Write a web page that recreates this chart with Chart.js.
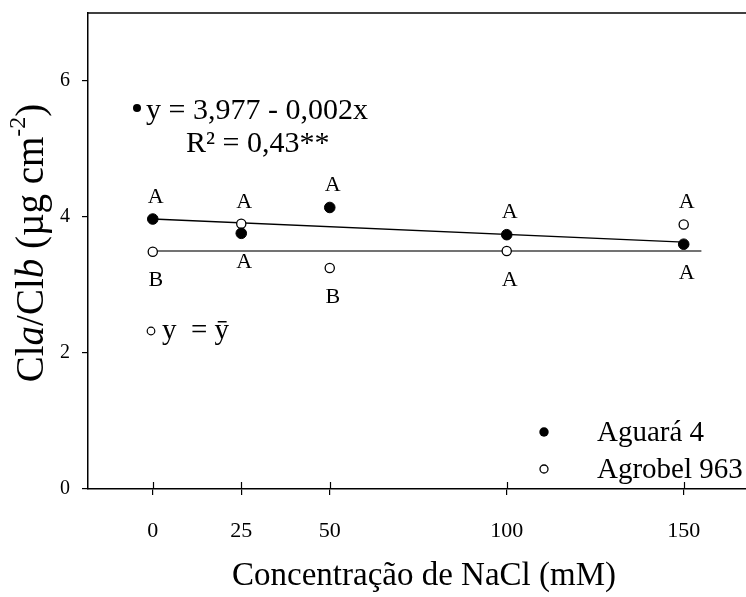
<!DOCTYPE html>
<html>
<head>
<meta charset="utf-8">
<script src="https://cdn.jsdelivr.net/npm/chart.js@4"></script>
<style>
  html, body { margin: 0; padding: 0; background: #fff; }
  #wrap { width: 746px; height: 597px; position: relative; }
  canvas { display: block; }
</style>
</head>
<body>
<div id="wrap"><canvas id="c" width="746" height="597"></canvas></div>
<script>
// ---- data ----
const concentrations = [0, 25, 50, 100, 150];
const aguara4 = [3.97, 3.76, 4.14, 3.74, 3.60];
const agrobel963 = [3.49, 3.90, 3.25, 3.50, 3.89];
const regressionX = [0, 150];
const regressionY = [3.97, 3.63];
const meanX = [0, 155];
const meanY = [3.50, 3.50];
const lettersTop = ['A', 'A', 'A', 'A', 'A'];
const lettersBottom = ['B', 'A', 'B', 'A', 'A'];
const xTickValues = [0, 25, 50, 100, 150];
const yTickValues = [0, 2, 4, 6];
const seriesNames = ['Aguará 4', 'Agrobel 963'];
const equationText = 'y = 3,977 - 0,002x';
const r2Text = 'R² = 0,43**';
const meanText = ['y', '= ȳ'];
const xTitle = 'Concentração de NaCl (mM)';

const SERIF = '"Liberation Serif", "Times New Roman", "DejaVu Serif", serif';

function pts(xs, ys) { return xs.map((x, i) => ({ x: x, y: ys[i] })); }

const overlay = {
  id: 'overlay',
  afterDraw(chart) {
    const ctx = chart.ctx;
    const xs = chart.scales.x, ys = chart.scales.y;
    const area = chart.chartArea;
    ctx.save();
    // top border
    ctx.strokeStyle = '#000';
    ctx.lineWidth = 1.5;
    ctx.beginPath();
    ctx.moveTo(area.left, area.top);
    ctx.lineTo(746, area.top);
    ctx.stroke();
    // inward part of x ticks
    ctx.lineWidth = 1.2;
    xTickValues.forEach(v => {
      const px = Math.round(xs.getPixelForValue(v)) + 0.5;
      ctx.beginPath();
      ctx.moveTo(px, area.bottom);
      ctx.lineTo(px, area.bottom - 7);
      ctx.stroke();
    });
    // letters
    ctx.fillStyle = '#000';
    ctx.font = '22px ' + SERIF;
    ctx.textAlign = 'center';
    ctx.textBaseline = 'middle';
    concentrations.forEach((c, i) => {
      const px = xs.getPixelForValue(c) + 3;
      const p1 = ys.getPixelForValue(aguara4[i]);
      const p2 = ys.getPixelForValue(agrobel963[i]);
      ctx.fillText(lettersTop[i], px, Math.min(p1, p2) - 22);
      ctx.fillText(lettersBottom[i], px, Math.max(p1, p2) + 29);
    });
    // regression equation
    ctx.beginPath();
    ctx.arc(137, 108, 4, 0, Math.PI * 2);
    ctx.fill();
    ctx.font = '30px ' + SERIF;
    ctx.textAlign = 'left';
    ctx.fillText(equationText, 146, 111);
    ctx.fillText(r2Text, 186, 144);
    // mean equation
    ctx.beginPath();
    ctx.arc(151, 331, 3.8, 0, Math.PI * 2);
    ctx.fillStyle = '#fff';
    ctx.fill();
    ctx.lineWidth = 1.2;
    ctx.strokeStyle = '#000';
    ctx.stroke();
    ctx.fillStyle = '#000';
    ctx.font = '29px ' + SERIF;
    ctx.fillText(meanText[0], 162, 331);
    ctx.fillText(meanText[1], 191, 331);
    // legend
    const legY = [432, 469];
    ctx.font = '29px ' + SERIF;
    seriesNames.forEach((name, i) => {
      ctx.beginPath();
      ctx.arc(544, legY[i], i === 0 ? 4.7 : 4, 0, Math.PI * 2);
      if (i === 0) { ctx.fillStyle = '#000'; ctx.fill(); }
      else { ctx.fillStyle = '#fff'; ctx.fill(); ctx.lineWidth = 1.3; ctx.stroke(); }
      ctx.fillStyle = '#000';
      ctx.fillText(name, 597, legY[i] + 1);
    });
    // x title
    ctx.font = '33px ' + SERIF;
    ctx.textAlign = 'center';
    ctx.fillText(xTitle, 424, 576);
    // y title (mixed styles)
    const parts = [
      { t: 'Cl', f: '39px ' + SERIF, dy: 0 },
      { t: 'a', f: 'italic 39px ' + SERIF, dy: 0 },
      { t: '/Cl', f: '39px ' + SERIF, dy: 0 },
      { t: 'b', f: 'italic 39px ' + SERIF, dy: 0 },
      { t: ' (µg cm', f: '39px ' + SERIF, dy: 0 },
      { t: '-2', f: '24px ' + SERIF, dy: -14 },
      { t: ')', f: '39px ' + SERIF, dy: 0 }
    ];
    let total = 0;
    parts.forEach(p => { ctx.font = p.f; p.w = ctx.measureText(p.t).width; total += p.w; });
    ctx.translate(33, 243);
    ctx.rotate(-Math.PI / 2);
    ctx.textAlign = 'left';
    ctx.textBaseline = 'middle';
    let cx = -total / 2;
    parts.forEach(p => { ctx.font = p.f; ctx.fillText(p.t, cx, p.dy); cx += p.w; });
    ctx.restore();
  }
};

new Chart(document.getElementById('c'), {
  type: 'scatter',
  data: {
    datasets: [
      { label: seriesNames[0], data: pts(concentrations, aguara4), backgroundColor: '#000', borderColor: '#000',
        pointRadius: 5.3, pointBorderWidth: 1, order: 0 },
      { label: seriesNames[1], data: pts(concentrations, agrobel963), backgroundColor: '#fff', borderColor: '#000',
        pointRadius: 4.6, pointBorderWidth: 1.3, order: 0 },
      { label: 'reg', data: pts(regressionX, regressionY), showLine: true, borderColor: '#000', borderWidth: 1.4,
        pointRadius: 0, order: 2 },
      { label: 'mean', data: pts(meanX, meanY), showLine: true, borderColor: '#444', borderWidth: 1.3,
        pointRadius: 0, order: 2 }
    ]
  },
  options: {
    responsive: false,
    animation: false,
    devicePixelRatio: 1,
    layout: { autoPadding: false, padding: { top: 13, right: 0, left: 0, bottom: 0 } },
    plugins: { legend: { display: false }, tooltip: { enabled: false } },
    scales: {
      x: {
        type: 'linear', min: -18.3, max: 167.6,
        afterBuildTicks: s => { s.ticks = xTickValues.map(v => ({ value: v })); },
        afterFit: s => { s.height = 108; s.paddingLeft = 0; s.paddingRight = 0; },
        grid: { drawOnChartArea: false, drawTicks: true, tickLength: 6, color: '#000', lineWidth: 1.2 },
        border: { display: true, color: '#000', width: 1.5 },
        ticks: { color: '#000', font: { family: SERIF, size: 22 }, padding: 23, maxRotation: 0, autoSkip: false }
      },
      y: {
        type: 'linear', min: 0, max: 7,
        afterBuildTicks: s => { s.ticks = yTickValues.map(v => ({ value: v })); },
        afterFit: s => { s.width = 88; s.paddingTop = 0; s.paddingBottom = 0; },
        grid: { drawOnChartArea: false, drawTicks: true, tickLength: 6, color: '#000', lineWidth: 1.2 },
        border: { display: true, color: '#000', width: 1.5 },
        ticks: { color: '#000', font: { family: SERIF, size: 20 }, padding: 12 }
      }
    }
  },
  plugins: [overlay]
});
</script>
</body>
</html>
